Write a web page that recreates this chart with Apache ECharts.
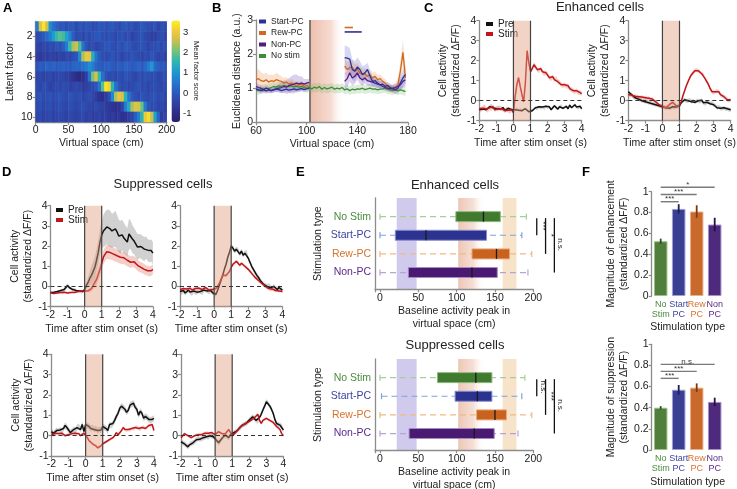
<!DOCTYPE html>
<html>
<head>
<meta charset="utf-8">
<script src="https://cdn.jsdelivr.net/npm/echarts@6/dist/echarts.min.js"></script>
<style>
html,body{margin:0;padding:0;background:#fff;}
#fig{width:737px;height:489px;}
</style>
</head>
<body>
<div id="fig"></div>
<script>
// ---------- data ----------
// A: mean factor score, 10 latent factors x 40 bins of 5 cm
var heatRows = [
  [0.6,2.8,3.4,2.6,0.9,0.4,0.1,-0.1,0.0,-0.2, -0.1,0.0,-0.3,-0.1,-0.2,0.0,-0.1,-0.3,-0.2,0.0, -0.1,-0.2,-0.1,0.0,-0.2,-0.3,-0.1,0.0,-0.2,-0.1, -0.3,-0.2,0.0,-0.1,-0.2,-0.3,-0.1,-0.4,-0.2,-0.3],
  [-0.3,-0.2,0.0,0.3,0.6,1.1,1.6,1.9,1.7,1.2, 0.7,0.1,-0.3,-0.2,-0.4,-0.1,-0.3,-0.2,-0.1,0.0, -0.2,-0.3,-0.1,-0.2,-0.4,-0.2,-0.1,-0.3,-0.2,-0.5, -0.3,-0.2,-0.1,-0.3,-0.4,-0.6,-0.5,-0.3,-0.2,-0.4],
  [-0.4,-0.5,-0.3,-0.4,-0.2,-0.3,-0.1,-0.2,0.1,0.6, 1.6,2.4,2.6,1.8,0.5,-0.1,-0.3,-0.2,-0.4,-0.3, -0.2,-0.1,0.0,-0.2,-0.3,-0.1,-0.2,0.0,-0.1,-0.2, -0.3,-0.2,-0.1,-0.2,-0.4,-0.3,-0.2,-0.1,-0.3,-0.2],
  [-0.6,-0.7,-0.5,-0.6,-0.4,-0.5,-0.6,-0.4,-0.5,-0.3, -0.4,-0.2,-0.1,0.8,2.4,3.0,2.9,1.4,0.5,0.0, -0.2,-0.3,-0.2,-0.1,-0.3,-0.2,-0.4,-0.2,-0.3,-0.1, -0.2,-0.3,-0.4,-0.2,-0.3,-0.1,-0.2,-0.4,-0.3,-0.5],
  [-0.1,0.1,0.0,0.2,0.1,0.2,0.0,0.1,0.2,0.1, 0.0,0.2,0.3,0.2,0.4,0.6,0.9,0.6,0.2,0.1, 0.0,0.1,0.2,0.0,-0.1,0.1,0.0,0.2,0.1,0.0, 0.1,0.2,0.0,0.3,0.6,1.0,0.3,0.1,0.0,-0.1],
  [-0.4,-0.3,-0.5,-0.4,-0.3,-0.5,-0.4,-0.3,-0.4,-0.5, -0.6,-0.8,-1.0,-1.1,-0.9,-0.5,0.5,2.1,2.7,1.6, 0.4,-0.1,-0.3,-0.2,-0.4,-0.2,-0.3,-0.1,-0.2,-0.3, -0.4,-0.2,-0.3,-0.1,-0.2,-0.3,-0.2,-0.4,-0.3,-0.2],
  [-0.3,-0.4,-0.2,-0.3,-0.5,-0.4,-0.3,-0.4,-0.2,-0.3, -0.5,-0.4,-0.3,-0.4,-0.6,-0.5,-0.4,-0.3,-0.1,0.5, 1.9,3.4,3.2,1.5,0.4,-0.1,-0.3,-0.2,-0.4,-0.3, -0.2,-0.1,-0.3,-0.2,-0.4,-0.3,-0.2,-0.3,-0.4,-0.3],
  [-0.2,-0.1,-0.3,-0.2,-0.1,-0.3,-0.2,-0.1,-0.2,-0.3, -0.1,-0.2,-0.3,-0.2,-0.4,-0.3,-0.2,-0.4,-0.6,-0.8, -0.9,-0.6,-0.2,0.8,2.4,2.9,2.7,1.5,0.5,0.0, -0.2,-0.3,-0.1,-0.2,-0.3,-0.2,-0.1,-0.3,-0.2,-0.4],
  [-0.3,-0.2,-0.4,-0.3,-0.2,-0.4,-0.3,-0.2,-0.3,-0.4, -0.2,-0.3,-0.4,-0.3,-0.2,-0.3,-0.4,-0.5,-0.3,-0.4, -0.5,-0.6,-0.7,-0.8,-0.9,-0.8,-0.4,0.6,1.3,2.4, 2.8,2.7,2.0,0.6,-0.1,-0.3,-0.2,-0.4,-0.3,-0.5],
  [-0.4,-0.3,-0.5,-0.4,-0.3,-0.5,-0.4,-0.3,-0.4,-0.5, -0.3,-0.4,-0.5,-0.4,-0.3,-0.5,-0.4,-0.6,-0.5,-0.4, -0.6,-0.5,-0.7,-0.6,-0.8,-0.7,-0.9,-0.8,-0.6,-0.4, 0.1,0.6,1.5,3.0,3.3,2.6,1.2,0.2,-0.6,-0.4]
];
var factorLabels = ['1','2','3','4','5','6','7','8','9','10'];
var heatMin = -1.43, heatMax = 3.57;

// B: Euclidean distance vs virtual space
var bX = [60,62,64,66,68,70,72,74,76,78,80,82,84,86,88,90,92,94,96,98,100,102,104,106,108,110,112,114,116,118,120,122,124,126,128,130,132,134,136,138,140,142,144,146,148,150,152,154,156,158,160,162,164,166,168,170,172,174,176,178];
var bNoStim = [0.95,0.93,0.97,0.98,1.00,0.98,1.02,1.05,1.03,1.07,1.05,1.08,1.06,1.05,1.07,1.04,1.06,1.03,1.05,1.02,1.00,
  1.02,0.98,1.03,1.00,1.05,0.97,1.02,0.98,1.00,1.03,0.97,1.00,0.98,1.02,0.95,0.98,0.93,0.97,0.95,0.98,
  0.97,1.00,0.96,0.98,1.00,0.97,0.98,0.95,0.97,0.98,1.00,0.96,0.95,0.93,0.96,0.92,0.95,0.93,0.90];
var bStart = [0.98,0.95,0.92,0.96,1.00,0.97,0.93,0.95,0.98,0.96,0.93,0.95,0.97,0.94,0.96,0.98,0.95,0.97,0.99,0.96,0.98,1.00,
  null,null,null,null,null,null,null,null,null,null,null,null,null,
  1.90,1.88,1.85,1.55,1.50,1.62,1.55,1.40,1.45,1.55,1.35,1.20,1.22,1.15,1.10,1.12,1.05,1.08,1.02,0.98,0.95,1.00,1.15,1.30,1.40];
var bRew = [1.25,1.28,1.22,1.20,1.25,1.18,1.22,1.20,1.25,1.22,1.20,1.15,1.18,1.12,1.15,1.10,1.08,1.10,1.12,1.05,1.08,1.05,
  null,null,null,null,null,null,null,null,null,null,null,null,null,
  1.65,1.55,1.60,1.62,1.50,1.55,1.45,1.40,1.42,1.35,1.40,1.30,1.35,1.25,1.28,1.20,1.15,1.05,1.00,0.98,1.00,1.10,1.50,2.05,1.30];
var bNon = [1.05,1.02,1.00,0.95,0.92,0.95,0.93,0.96,0.98,1.00,1.02,1.05,1.03,1.08,1.10,1.12,1.15,1.13,1.15,1.12,1.15,1.17,
  null,null,null,null,null,null,null,null,null,null,null,null,null,
  1.20,1.28,1.45,1.30,1.35,1.45,1.30,1.25,1.30,1.22,1.20,1.18,1.15,1.12,1.10,1.05,1.02,1.00,0.98,1.00,1.02,1.05,1.10,1.20,1.25];
var bNoStimSem = 0.13;
var bStartSem = [0.08,0.08,0.08,0.08,0.08,0.08,0.08,0.08,0.08,0.08,0.08,0.08,0.08,0.08,0.08,0.08,0.08,0.08,0.08,0.08,0.08,0.08,
  null,null,null,null,null,null,null,null,null,null,null,null,null,
  0.35,0.35,0.33,0.30,0.30,0.28,0.25,0.25,0.22,0.20,0.18,0.15,0.15,0.12,0.12,0.10,0.10,0.10,0.10,0.10,0.12,0.15,0.20,0.25,0.25];
var bRewSem = [0.25,0.28,0.25,0.22,0.20,0.20,0.18,0.18,0.20,0.18,0.15,0.15,0.15,0.12,0.12,0.12,0.12,0.10,0.10,0.10,0.10,0.10,
  null,null,null,null,null,null,null,null,null,null,null,null,null,
  0.22,0.22,0.20,0.20,0.20,0.18,0.18,0.18,0.16,0.16,0.15,0.15,0.14,0.14,0.13,0.12,0.12,0.12,0.12,0.12,0.15,0.20,0.30,0.35,0.30];
var bNonSem = [0.10,0.10,0.08,0.08,0.08,0.08,0.08,0.08,0.10,0.12,0.15,0.18,0.20,0.22,0.25,0.28,0.25,0.22,0.20,0.15,0.12,0.10,
  null,null,null,null,null,null,null,null,null,null,null,null,null,
  0.25,0.25,0.25,0.22,0.22,0.20,0.18,0.18,0.16,0.15,0.14,0.13,0.12,0.12,0.11,0.10,0.10,0.10,0.10,0.10,0.10,0.12,0.15,0.18,0.20];
var bStimZone = [102.6, 130];
var bSig = [[130, 136.5, 2.78], [130, 143.5, 2.65]];   // Rew-PC, Start-PC

// C, D: time courses (s after stim onset)
var T = [-2,-1.9,-1.8,-1.7,-1.6,-1.5,-1.4,-1.3,-1.2,-1.1,-1,-0.9,-0.8,-0.7,-0.6,-0.5,-0.4,-0.3,-0.2,-0.1,0,
  0.1,0.2,0.3,0.4,0.5,0.6,0.7,0.8,0.9,1,1.1,1.2,1.3,1.4,1.5,1.6,1.7,1.8,1.9,2,
  2.1,2.2,2.3,2.4,2.5,2.6,2.7,2.8,2.9,3,3.1,3.2,3.3,3.4,3.5,3.6,3.7,3.8,3.9,4];
var stimWin = [0, 1];
var cL_pre = [-0.45,-0.40,-0.42,-0.35,-0.45,-0.40,-0.30,-0.20,-0.35,-0.45,-0.40, -0.30,-0.42,-0.45,-0.35,-0.50,-0.42,-0.38,-0.48,-0.45,-0.50,
  -0.45,-0.40,-0.48,-0.42,-0.50,-0.45,-0.40,-0.48,-0.55,-0.45, -0.50,-0.40,-0.35,-0.42,-0.30,-0.38,-0.32,-0.40,-0.28,-0.35,
  -0.30,-0.45,-0.38,-0.25,-0.35,-0.42,-0.30,-0.25,-0.38,-0.32, -0.28,-0.40,-0.22,-0.35,-0.30,-0.20,-0.32,-0.38,-0.28,-0.40];
var cL_stim = [-0.40,-0.45,-0.38,-0.30,-0.42,-0.48,-0.35,-0.40,-0.30,-0.45,-0.38, -0.42,-0.35,-0.40,-0.45,-0.50,-0.42,-0.48,-0.55,-0.45,-0.60,
  0.20,0.80,1.15,0.70,0.30,-0.05,0.90,2.50,1.90,1.45, 1.60,1.80,1.70,1.55,1.50,1.60,1.45,1.35,1.40,1.30,
  1.15,1.10,1.20,1.05,1.10,0.95,0.90,0.80,0.75,0.80, 0.70,0.75,0.60,0.55,0.50,0.45,0.50,0.40,0.40,0.35];
var cR_pre = [0.45,0.35,0.30,0.20,0.15,0.10,0.08,0.05,0.00,-0.02,-0.05, -0.05,-0.10,-0.12,-0.15,-0.18,-0.20,-0.22,-0.25,-0.28,-0.30,
  -0.32,-0.35,-0.33,-0.38,-0.35,-0.30,-0.35,-0.32,-0.28,-0.25, -0.10,0.00,0.05,-0.02,0.00,0.05,-0.05,0.00,-0.08,-0.02,
  0.00,-0.05,0.02,-0.10,-0.15,-0.08,-0.05,-0.15,-0.10,-0.20, -0.25,-0.35,-0.30,-0.38,-0.40,-0.35,-0.42,-0.40,-0.45,-0.45];
var cR_stim = [0.30,0.25,0.28,0.20,0.22,0.18,0.20,0.15,0.18,0.12,0.15, 0.10,0.12,0.05,0.08,0.00,-0.05,-0.12,-0.20,-0.25,-0.30,
  -0.32,-0.35,-0.30,-0.20,-0.12,-0.08,-0.15,-0.25,-0.30,-0.25, -0.05,0.25,0.50,0.75,0.95,1.15,1.30,1.40,1.50,1.55,
  1.50,1.45,1.35,1.30,1.10,0.95,0.80,0.60,0.45,0.40, 0.45,0.50,0.45,0.30,0.25,0.20,0.15,0.05,0.00,0.05];
var dTL_pre = [-0.30,-0.32,-0.28,-0.30,-0.25,-0.28,-0.20,-0.22,-0.15,-0.05,0.05, -0.05,-0.10,-0.15,-0.12,-0.20,-0.25,-0.22,-0.28,-0.25,-0.15,
  0.05,0.20,0.40,0.55,0.75,0.95,1.30,1.70,2.20,2.55, 2.75,2.85,2.95,2.90,2.85,2.75,2.80,2.85,2.70,2.50,
  2.45,2.55,2.40,2.30,2.20,2.60,2.55,2.35,2.25,2.10, 1.95,2.00,1.98,1.90,1.85,1.92,1.80,1.75,1.78,1.65];
var dTL_preSem = [0.06,0.06,0.06,0.06,0.06,0.06,0.07,0.08,0.10,0.12,0.10, 0.08,0.07,0.06,0.06,0.06,0.06,0.06,0.07,0.08,0.10,
  0.15,0.25,0.35,0.45,0.50,0.55,0.55,0.60,0.65,0.70, 0.80,0.85,0.85,0.90,0.90,0.85,0.85,0.90,0.85,0.80,
  0.80,0.75,0.75,0.70,0.70,0.75,0.70,0.70,0.65,0.65, 0.65,0.60,0.60,0.60,0.60,0.55,0.55,0.55,0.55,0.55];
var dTL_stim = [-0.32,-0.30,-0.35,-0.30,-0.32,-0.28,-0.30,-0.33,-0.28,-0.30,-0.32, -0.28,-0.30,-0.25,-0.30,-0.28,-0.25,-0.30,-0.22,-0.25,-0.22,
  -0.20,-0.22,-0.18,-0.10,0.05,0.20,0.35,0.60,0.85,1.15, 1.45,1.60,1.72,1.70,1.68,1.65,1.60,1.55,1.52,1.48,
  1.45,1.40,1.42,1.35,1.30,1.25,1.20,1.25,1.22,1.15, 1.05,0.98,0.95,0.90,0.85,0.80,0.78,0.75,0.78,0.85];
var dTL_stimSem = [0.05,0.05,0.05,0.05,0.05,0.05,0.05,0.05,0.05,0.05,0.05, 0.05,0.05,0.05,0.05,0.05,0.05,0.05,0.05,0.05,0.05,
  0.05,0.08,0.10,0.15,0.20,0.25,0.30,0.30,0.32,0.32, 0.35,0.35,0.35,0.35,0.35,0.33,0.33,0.33,0.32,0.32,
  0.32,0.30,0.30,0.30,0.30,0.30,0.28,0.28,0.28,0.28, 0.28,0.28,0.26,0.26,0.26,0.25,0.25,0.25,0.25,0.25];
var dTR_pre = [-0.25,-0.30,-0.20,-0.32,-0.25,-0.18,-0.28,-0.35,-0.22,-0.30,-0.28, -0.20,-0.25,-0.30,-0.18,-0.15,-0.22,-0.28,-0.20,-0.30,-0.30,
  -0.40,-0.20,0.05,0.30,0.55,0.85,1.10,1.45,1.70,2.00, 1.90,1.75,1.85,1.80,1.60,1.75,1.55,1.65,1.70,1.40,
  1.20,1.00,0.85,0.70,0.55,0.45,0.30,0.20,0.10,0.05, 0.00,0.05,-0.05,-0.10,0.00,-0.08,-0.15,-0.05,-0.12,-0.18];
var dTR_stim = [-0.15,-0.20,-0.10,-0.18,-0.12,-0.15,-0.08,-0.18,-0.12,-0.10,-0.15, -0.08,-0.12,-0.15,-0.10,-0.05,-0.12,-0.18,-0.10,-0.15,-0.12,
  -0.10,0.00,0.15,0.35,0.55,0.60,0.55,0.58,0.75,0.95, 1.10,1.15,1.25,1.20,1.05,1.15,1.10,1.00,0.95,0.85,
  0.75,0.65,0.55,0.45,0.38,0.30,0.22,0.15,0.08,0.02, -0.05,-0.10,-0.15,-0.12,-0.18,-0.20,-0.15,-0.22,-0.20,-0.25];
var dBL_pre = [0.20,0.10,0.15,0.25,0.20,0.28,0.22,0.35,0.50,0.40,0.28, 0.15,0.20,0.30,0.25,0.40,0.45,0.30,0.55,0.20,0.55,
  0.50,0.45,0.35,0.40,0.30,0.35,0.25,0.30,0.28,0.45, 0.40,0.35,0.25,0.55,0.50,0.60,0.75,0.95,1.10,1.35,
  1.45,1.40,1.30,1.15,1.25,1.50,1.55,1.60,1.40,1.30, 1.00,1.20,1.10,0.85,0.95,0.90,0.80,0.75,0.80,0.85];
var dBL_stim = [0.03,0.08,0.12,0.15,0.10,0.08,0.12,0.05,0.00,0.05,0.05, 0.08,0.10,0.15,0.12,0.05,0.10,0.00,0.05,0.12,0.20,
  -0.10,-0.25,-0.30,-0.40,-0.45,-0.50,-0.60,-0.55,-0.50,-0.40, -0.35,-0.30,-0.25,-0.20,-0.15,-0.10,0.00,0.15,0.05,0.10,
  0.25,0.40,0.30,0.25,0.30,0.25,0.35,0.30,0.40,0.45, 0.35,0.30,0.40,0.45,0.35,0.40,0.50,0.45,0.55,0.25];
var dBR_pre = [-0.30,-0.35,-0.40,-0.48,-0.55,-0.45,-0.38,-0.35,-0.30,-0.20,-0.13, -0.18,-0.15,-0.10,-0.08,-0.05,-0.08,0.00,-0.02,-0.05,-0.08,
  -0.25,-0.35,-0.28,-0.13,-0.05,0.03,-0.05,-0.10,0.05,0.10, 0.15,0.20,0.25,0.35,0.40,0.52,0.55,0.60,0.65,0.77,
  0.85,0.93,0.85,0.75,0.70,0.90,1.05,1.26,1.45,1.67, 1.60,1.46,1.30,1.10,0.80,0.60,0.55,0.52,0.45,0.28];
var dBR_stim = [-0.10,0.00,0.10,0.05,0.00,-0.05,-0.10,-0.05,0.00,0.05,0.05, 0.08,0.05,0.10,0.12,0.15,0.12,0.10,0.15,0.08,0.05,
  0.12,0.20,0.15,0.10,0.05,0.10,0.20,0.30,0.15,0.00, 0.05,0.15,0.25,0.35,0.45,0.50,0.55,0.60,0.65,0.70,
  0.75,0.80,0.88,0.95,1.05,0.75,0.60,0.75,0.80,0.85, 0.80,0.75,0.70,0.65,0.60,0.45,0.40,0.30,0.10,0.00];

// E: baseline activity peak, [whisker lo, q1, median, q3, whisker hi] (cm)
var boxCats = ['No Stim', 'Start-PC', 'Rew-PC', 'Non-PC'];
var boxEnh = [[0,99,135,157,191], [0,20,60,139,185], [0,120,152,169,198], [0,37,120,153,193]];
var boxSup = [[0,75,125,146,189], [2,98,127,146,185], [0,126,150,165,198], [0,38,123,149,180]];
var eZones = [[21.8, 47.8], [102, 135], [160, 178]];
var eSigEnh = ['***', '*', 'n.s.'];
var eSigSup = ['n.s.', '***', 'n.s.'];

// F: magnitudes
var fCats = ['No\nStim', 'Start\nPC', 'Rew\nPC', 'Non\nPC'];
var fEnh = [0.525, 0.835, 0.81, 0.685], fEnhErr = [0.025, 0.045, 0.06, 0.065];
var fSup = [0.40, 0.57, 0.59, 0.455], fSupErr = [0.015, 0.045, 0.04, 0.04];
var fSigEnh = ['***', '***', '*'];
var fSigSup = ['***', '***', 'n.s.'];

// ---------- styles ----------
var FONT = '"Liberation Sans", Arial, Helvetica, sans-serif';
var AX = '#8c8c8c', TXT = '#222';
var RED = '#c1161c', BLK = '#111';
var SHADE = 'rgba(226,160,128,0.45)';
var HEAT_COLORS = ['#2a1f6e', '#2e2f8c', '#2f44a6', '#2c5cc0', '#2479d0', '#1d9ccf', '#2fb7ae', '#74c27a', '#c8bf52', '#f3c93a', '#f8f51a'];
var B_COL = {start:'#2e3192', rew:'#d2691e', non:'#4d1f80', no:'#3d8b37'};
var B_BAND = {start:'rgba(90,95,200,0.25)', rew:'rgba(235,140,60,0.25)', non:'rgba(130,90,190,0.28)', no:'rgba(120,180,110,0.25)'};
var CAT_COL = ['#4b8b3b', '#3c44a0', '#d8732a', '#5a2a8a'];
var BOX_F = ['#3f7a2e', '#2c328f', '#c9621f', '#4a1a72'];
var BOX_E = ['#8fb880', '#8a90cc', '#e8a879', '#a58cc2'];
var WHISK = ['#a6cf98', '#7ea2dc', '#f2b980', '#b9a3d4'];
var BAR_F = ['#4f7f3a', '#3b3f92', '#c9692c', '#4e2a7d'];
var BAR_E = ['#9cc08a', '#9a9fd6', '#eab189', '#a88ccb'];
var ERR = ['#2f4f22', '#1c1f5e', '#7a3a10', '#2a0f45'];

var grids = [], xAxes = [], yAxes = [], series = [];

function axisBase(extra) {
  var a = {
    splitLine: {show: false},
    axisLine: {show: true, onZero: false, lineStyle: {color: AX, width: 1.3}},
    axisTick: {show: true, length: 3, inside: false, lineStyle: {color: AX, width: 1.2}},
    axisLabel: {color: TXT, fontSize: 10.5, fontFamily: FONT, margin: 3},
    nameTextStyle: {color: TXT, fontSize: 10.5, fontFamily: FONT, lineHeight: 13},
    nameLocation: 'middle'
  };
  for (var k in extra) {
    if (a[k] && typeof a[k] === 'object' && extra[k] && typeof extra[k] === 'object' && !Array.isArray(extra[k])) {
      a[k] = Object.assign({}, a[k], extra[k]);
    } else {
      a[k] = extra[k];
    }
  }
  return a;
}

function addGrid(g, xa, ya) {
  g.outerBoundsMode = 'none';
  grids.push(g);
  var gi = grids.length - 1;
  var xi = xAxes.length, yi = yAxes.length;
  [].concat(xa).forEach(function (a) { a.gridIndex = gi; if (!a.position) a.position = 'bottom'; xAxes.push(a); });
  [].concat(ya).forEach(function (a) { a.gridIndex = gi; if (!a.position) a.position = 'left'; yAxes.push(a); });
  return {g: gi, x: xi, y: yi};
}

function lineSeries(name, ax, xs, ys, color, z, zeroLine, width) {
  var s = {
    type: 'line', name: name, xAxisIndex: ax.x, yAxisIndex: ax.y, z: z,
    showSymbol: false, symbol: 'none', silent: true, connectNulls: false,
    data: xs.map(function (x, i) { return [x, ys[i]]; }),
    lineStyle: {color: color, width: width || 1.5}, itemStyle: {color: color}
  };
  if (zeroLine) {
    s.markLine = {silent: true, symbol: 'none', label: {show: false},
      lineStyle: {type: [4, 3], color: '#333', width: 1}, data: [{yAxis: 0}]};
  }
  return s;
}

function bandSeries(ax, xs, ys, sem, fill, z) {
  return {
    type: 'custom', xAxisIndex: ax.x, yAxisIndex: ax.y, z: z || 1, silent: true, clip: true,
    data: [[xs[0], 0]],
    renderItem: function (params, api) {
      var segs = [], cur = [];
      for (var i = 0; i < xs.length; i++) {
        if (ys[i] == null) { if (cur.length) segs.push(cur); cur = []; }
        else cur.push(i);
      }
      if (cur.length) segs.push(cur);
      function s(i) { return typeof sem === 'number' ? sem : sem[i]; }
      var ch = segs.map(function (seg) {
        var up = seg.map(function (i) { return api.coord([xs[i], ys[i] + s(i)]); });
        var lo = seg.slice().reverse().map(function (i) { return api.coord([xs[i], ys[i] - s(i)]); });
        return {type: 'polygon', shape: {points: up.concat(lo)}, style: {fill: fill}};
      });
      return {type: 'group', children: ch};
    }
  };
}

function stimSeries(ax) {
  return {
    type: 'custom', xAxisIndex: ax.x, yAxisIndex: ax.y, z: 4, silent: true, data: [stimWin],
    renderItem: function (params, api) {
      var cs = params.coordSys;
      var x0 = api.coord([api.value(0), 0])[0], x1 = api.coord([api.value(1), 0])[0];
      return {type: 'group', children: [
        {type: 'rect', shape: {x: x0, y: cs.y, width: x1 - x0, height: cs.height}, style: {fill: SHADE}},
        {type: 'line', shape: {x1: x0, y1: cs.y, x2: x0, y2: cs.y + cs.height}, style: {stroke: '#444', lineWidth: 1.2}},
        {type: 'line', shape: {x1: x1, y1: cs.y, x2: x1, y2: cs.y + cs.height}, style: {stroke: '#444', lineWidth: 1.2}}
      ]};
    }
  };
}

// ---------- A: heatmap ----------
var heatBins = [];
for (var c = 0; c < heatRows[0].length; c++) heatBins.push(String(c * 5));
var heatData = [];
heatRows.forEach(function (row, r) { row.forEach(function (v, c) { heatData.push([c, r, v]); }); });
var evenOnly = function (i) { return i % 2 === 1; };

var A = addGrid({left: 35.7, top: 21.5, width: 131, height: 100.5},
  [{type: 'category', data: heatBins, show: false, position: 'bottom'},
   axisBase({type: 'value', position: 'bottom', min: 0, max: 200, interval: 50, name: 'Virtual space (cm)', nameGap: 15})],
  axisBase({type: 'category', data: factorLabels, inverse: true, name: 'Latent factor', nameGap: 19,
    axisLabel: {interval: evenOnly}, axisTick: {interval: evenOnly, alignWithLabel: true}}));
series.push({type: 'heatmap', xAxisIndex: A.x, yAxisIndex: A.y, data: heatData, silent: true,
  itemStyle: {borderWidth: 0}, emphasis: {disabled: true}});

var CB = addGrid({left: 171.5, top: 20.5, width: 8.5, height: 101.5},
  {type: 'value', show: false, min: 0, max: 1},
  axisBase({type: 'value', position: 'right', min: heatMin, max: heatMax,
    axisLine: {show: false}, axisTick: {show: false},
    axisLabel: {margin: 3, fontSize: 9.5, formatter: function (v) { return Number.isInteger(v) ? String(v) : ''; }}}));
series.push({type: 'line', xAxisIndex: CB.x, yAxisIndex: CB.y, data: [], silent: true});

// ---------- B ----------
var B = addGrid({left: 256, top: 20, width: 152, height: 102.3},
  axisBase({type: 'value', min: 60, max: 180, interval: 40, name: 'Virtual space (cm)', nameGap: 15}),
  axisBase({type: 'value', min: 0, max: 3, interval: 1, name: 'Euclidean distance (a.u.)', nameGap: 12}));
series.push({
  type: 'custom', xAxisIndex: B.x, yAxisIndex: B.y, z: 0, silent: true, data: [bStimZone],
  renderItem: function (params, api) {
    var cs = params.coordSys;
    var x0 = api.coord([api.value(0), 0])[0], x1 = api.coord([api.value(1), 0])[0];
    return {type: 'group', children: [
      {type: 'rect', shape: {x: x0, y: cs.y, width: x1 - x0, height: cs.height},
        style: {fill: new echarts.graphic.LinearGradient(0, 0, 1, 0, [
          {offset: 0, color: 'rgba(226,150,120,0.62)'}, {offset: 0.6, color: 'rgba(232,165,140,0.4)'},
          {offset: 1, color: 'rgba(255,255,255,0)'}])}},
      {type: 'line', shape: {x1: x0, y1: cs.y, x2: x0, y2: cs.y + cs.height}, style: {stroke: '#444', lineWidth: 1.3}}
    ]};
  }
});
series.push(bandSeries(B, bX, bNoStim, bNoStimSem, B_BAND.no, 1));
series.push(bandSeries(B, bX, bRew, bRewSem, B_BAND.rew, 1));
series.push(bandSeries(B, bX, bNon, bNonSem, B_BAND.non, 1));
series.push(bandSeries(B, bX, bStart, bStartSem, B_BAND.start, 1));
series.push(lineSeries('No stim', B, bX, bNoStim, B_COL.no, 3, false, 1.3));
series.push(lineSeries('Rew-PC', B, bX, bRew, B_COL.rew, 3, false, 1.3));
series.push(lineSeries('Non-PC', B, bX, bNon, B_COL.non, 3, false, 1.3));
series.push(lineSeries('Start-PC', B, bX, bStart, B_COL.start, 3, false, 1.3));
series.push({
  type: 'custom', xAxisIndex: B.x, yAxisIndex: B.y, z: 5, silent: true, data: bSig,
  renderItem: function (params, api) {
    var p0 = api.coord([api.value(0), api.value(2)]), p1 = api.coord([api.value(1), api.value(2)]);
    var col = params.dataIndex === 0 ? B_COL.rew : B_COL.start;
    return {type: 'line', shape: {x1: p0[0], y1: p0[1], x2: p1[0], y2: p1[1]}, style: {stroke: col, lineWidth: 1.6}};
  }
});

// ---------- C, D: traces ----------
function tracePanel(left, top, h, yName, yGap, pre, stim, preSem, stimSem) {
  var ax = addGrid({left: left, top: top, width: 102.4, height: h},
    axisBase({type: 'value', min: -2, max: 4, interval: 1, name: 'Time after stim onset (s)', nameGap: 16}),
    axisBase({type: 'value', min: -1, max: 4, interval: 1, name: yName, nameGap: yGap}));
  series.push(bandSeries(ax, T, pre, preSem, 'rgba(140,140,140,0.4)', 1));
  series.push(bandSeries(ax, T, stim, stimSem, 'rgba(222,110,90,0.33)', 1));
  series.push(lineSeries('Pre', ax, T, pre, BLK, 3, true, 1.5));
  series.push(lineSeries('Stim', ax, T, stim, RED, 3, false, 1.5));
  series.push(stimSeries(ax));
}
var YCELL = 'Cell activity\n(standardized ΔF/F)';
tracePanel(479.3, 20.7, 100, YCELL, 10, cL_pre, cL_stim, 0.07, 0.12);
tracePanel(628.3, 20.7, 100, YCELL, 10, cR_pre, cR_stim, 0.10, 0.10);
tracePanel(50.5, 205.7, 101, YCELL, 16, dTL_pre, dTL_stim, dTL_preSem, dTL_stimSem);
tracePanel(180, 205.7, 101, '', 16, dTR_pre, dTR_stim, 0.12, 0.08);
tracePanel(51.5, 354.3, 101.7, YCELL, 16, dBL_pre, dBL_stim, 0.15, 0.07);
tracePanel(181, 354.3, 101.7, '', 16, dBR_pre, dBR_stim, 0.12, 0.07);

// ---------- E: box plots ----------
var catRich = {};
CAT_COL.forEach(function (c, i) { catRich['c' + i] = {color: c, fontSize: 10.5, fontFamily: FONT}; });

function boxPanel(top, boxes, sigs) {
  var ax = addGrid({left: 375, top: top, width: 158.3, height: 91.3},
    axisBase({type: 'value', min: -6.5, max: 200, name: 'Baseline activity peak in\nvirtual space (cm)', nameGap: 14,
      axisLabel: {formatter: function (v) { return (v >= 0 && v % 50 === 0) ? String(v) : ''; }}}),
    axisBase({type: 'value', inverse: true, min: -1, max: 3.9, interval: 1, name: 'Stimulation type', nameGap: 50,
      axisTick: {show: false},
      axisLabel: {margin: 4, rich: catRich, formatter: function (v) {
        return (v >= 0 && v <= 3) ? '{c' + v + '|' + boxCats[v] + '}' : ''; }}}));
  series.push({
    type: 'custom', xAxisIndex: ax.x, yAxisIndex: ax.y, z: 0, silent: true, data: eZones,
    renderItem: function (params, api) {
      var cs = params.coordSys, k = params.dataIndex;
      var x0 = api.coord([api.value(0), 0])[0], x1 = api.coord([api.value(1), 0])[0];
      var fill = k === 0 ? 'rgba(150,140,215,0.45)' : k === 2 ? 'rgba(240,200,150,0.5)' :
        new echarts.graphic.LinearGradient(0, 0, 1, 0, [
          {offset: 0, color: 'rgba(226,160,130,0.6)'}, {offset: 0.6, color: 'rgba(232,175,150,0.4)'},
          {offset: 1, color: 'rgba(255,255,255,0.1)'}]);
      return {type: 'rect', shape: {x: x0, y: cs.y, width: x1 - x0, height: cs.height}, style: {fill: fill}};
    }
  });
  series.push({
    type: 'custom', xAxisIndex: ax.x, yAxisIndex: ax.y, z: 3, silent: true,
    data: boxes.map(function (b, i) { return [i].concat(b); }),
    encode: {x: [1, 2, 3, 4, 5], y: 0},
    renderItem: function (params, api) {
      var i = api.value(0);
      var pLo = api.coord([api.value(1), i]), p1 = api.coord([api.value(2), i]);
      var pm = api.coord([api.value(3), i]), p3 = api.coord([api.value(4), i]), pHi = api.coord([api.value(5), i]);
      var hb = 5, hc = 3;
      return {type: 'group', children: [
        {type: 'line', shape: {x1: pLo[0], y1: pLo[1], x2: pHi[0], y2: pHi[1]}, style: {stroke: WHISK[i], lineWidth: 1.2, lineDash: [6, 4]}},
        {type: 'line', shape: {x1: pLo[0], y1: pLo[1] - hc, x2: pLo[0], y2: pLo[1] + hc}, style: {stroke: WHISK[i], lineWidth: 1.2}},
        {type: 'line', shape: {x1: pHi[0], y1: pHi[1] - hc, x2: pHi[0], y2: pHi[1] + hc}, style: {stroke: WHISK[i], lineWidth: 1.2}},
        {type: 'rect', shape: {x: p1[0], y: p1[1] - hb, width: p3[0] - p1[0], height: 2 * hb}, style: {fill: BOX_F[i], stroke: BOX_E[i], lineWidth: 1}},
        {type: 'line', shape: {x1: pm[0], y1: pm[1] - hb, x2: pm[0], y2: pm[1] + hb}, style: {stroke: '#1a1a1a', lineWidth: 1.3}}
      ]};
    }
  });
  series.push({
    type: 'custom', xAxisIndex: ax.x, yAxisIndex: ax.y, z: 5, silent: true,
    data: sigs.map(function (s, k) { return [0, k + 1]; }),
    renderItem: function (params, api) {
      var k = api.value(1);
      var xv = 204.5 + (k - 1) * 11.5;
      var p0 = api.coord([xv, 0]), p1 = api.coord([xv, k]);
      return {type: 'group', children: [
        {type: 'line', shape: {x1: p0[0], y1: p0[1] + 1.5, x2: p1[0], y2: p1[1]}, style: {stroke: '#111', lineWidth: 1.3}},
        {type: 'text', x: p0[0] + 2, y: (p0[1] + p1[1]) / 2, rotation: -Math.PI / 2,
          style: {text: sigs[k - 1], fontSize: 8, fontFamily: FONT, fill: '#222', align: 'center', verticalAlign: 'bottom'}}
      ]};
    }
  });
}
boxPanel(198, boxEnh, eSigEnh);
boxPanel(359, boxSup, eSigSup);

// ---------- F: bars ----------
function barPanel(top, h, name, vals, errs, sigs, sigBase, sigStep, xGap) {
  var ax = addGrid({left: 651.7, top: top, width: 72, height: h},
    axisBase({type: 'category', data: fCats, axisLine: {show: false}, axisTick: {show: false},
      name: 'Stimulation type', nameGap: xGap,
      axisLabel: {margin: 4, fontSize: 9, lineHeight: 10, interval: 0, color: function (v, i) { return CAT_COL[i]; }}}),
    axisBase({type: 'value', min: 0, max: 1, interval: 0.2, name: name, nameGap: 21}));
  series.push({type: 'bar', xAxisIndex: ax.x, yAxisIndex: ax.y, barWidth: 13.5, silent: true, z: 2,
    data: vals.map(function (v, i) { return {value: v, itemStyle: {color: BAR_F[i], borderColor: BAR_E[i], borderWidth: 1}}; })});
  series.push({
    type: 'custom', xAxisIndex: ax.x, yAxisIndex: ax.y, z: 4, silent: true,
    data: vals.map(function (v, i) { return [i, v]; }),
    renderItem: function (params, api) {
      var i = api.value(0), v = api.value(1), e = errs[i];
      var pt = api.coord([i, v + e]), pb = api.coord([i, v - e]);
      return {type: 'line', shape: {x1: pt[0], y1: pt[1], x2: pb[0], y2: pb[1]}, style: {stroke: ERR[i], lineWidth: 1.8}};
    }
  });
  series.push({
    type: 'custom', xAxisIndex: ax.x, yAxisIndex: ax.y, z: 4, silent: true,
    data: sigs.map(function (s, k) { return [k + 1, sigBase + k * sigStep]; }),
    renderItem: function (params, api) {
      var k = api.value(0), y = api.value(1);
      var p0 = api.coord([0, y]), p1 = api.coord([k, y]);
      return {type: 'group', children: [
        {type: 'line', shape: {x1: p0[0], y1: p0[1], x2: p1[0], y2: p1[1]}, style: {stroke: '#7a7a7a', lineWidth: 1.4}},
        {type: 'text', x: (p0[0] + p1[0]) / 2, y: p0[1] + 1,
          style: {text: sigs[k - 1], fontSize: 8, fontFamily: FONT, fill: '#333', align: 'center', verticalAlign: 'bottom'}}
      ]};
    }
  });
}
barPanel(191.7, 104.3, 'Magnitude of enhancement\n(standardized ΔF/F)', fEnh, fEnhErr, fSigEnh, 0.904, 0.069, 23);
barPanel(344.3, 105.7, 'Magnitude of suppression\n(standardized ΔF/F)', fSup, fSupErr, fSigSup, 0.678, 0.066, 26);

// ---------- text ----------
function txt(x, y, s, size, extra) {
  var st = {text: s, fontSize: size, fontFamily: FONT, fill: TXT, align: 'center', verticalAlign: 'middle'};
  if (extra) Object.assign(st, extra);
  return {type: 'text', x: x, y: y, silent: true, style: st};
}
var graphics = [
  txt(3, 8, 'A', 13, {fontWeight: 'bold', align: 'left', fill: '#000'}),
  txt(212, 8, 'B', 13, {fontWeight: 'bold', align: 'left', fill: '#000'}),
  txt(424, 8, 'C', 13, {fontWeight: 'bold', align: 'left', fill: '#000'}),
  txt(2, 172, 'D', 13, {fontWeight: 'bold', align: 'left', fill: '#000'}),
  txt(296, 172, 'E', 13, {fontWeight: 'bold', align: 'left', fill: '#000'}),
  txt(582, 172, 'F', 13, {fontWeight: 'bold', align: 'left', fill: '#000'}),
  txt(600, 7, 'Enhanced cells', 13),
  txt(163, 184, 'Suppressed cells', 13),
  txt(455, 185, 'Enhanced cells', 13),
  txt(455, 345, 'Suppressed cells', 13)
];
var cbLabel = txt(196, 71, 'Mean factor score', 7.5);
cbLabel.rotation = -Math.PI / 2;
graphics.push(cbLabel);

var legendText = {fontSize: 10, color: TXT, fontFamily: FONT};
var option = {
  animation: false,
  textStyle: {fontFamily: FONT},
  grid: grids, xAxis: xAxes, yAxis: yAxes, series: series,
  visualMap: [{type: 'continuous', seriesIndex: 0, min: heatMin, max: heatMax, left: 171.5, top: 20.5,
    itemWidth: 8.5, itemHeight: 101.5, padding: 0, calculable: false, hoverLink: false, text: null,
    inRange: {color: HEAT_COLORS}}],
  legend: [
    {data: ['Start-PC', 'Rew-PC', 'Non-PC', 'No stim'], orient: 'vertical', left: 259, top: 17, padding: 0,
      icon: 'rect', itemWidth: 7, itemHeight: 4, itemGap: 2.5, selectedMode: false,
      textStyle: {fontSize: 8.5, color: TXT, fontFamily: FONT}},
    {data: ['Pre', 'Stim'], orient: 'vertical', left: 486, top: 19, padding: 0, icon: 'rect',
      itemWidth: 7, itemHeight: 4, itemGap: 0, selectedMode: false, textStyle: legendText},
    {data: ['Pre', 'Stim'], orient: 'vertical', left: 56, top: 205, padding: 0, icon: 'rect',
      itemWidth: 7, itemHeight: 4, itemGap: 0, selectedMode: false, textStyle: legendText}
  ],
  graphic: graphics
};

var myChart = echarts.init(document.getElementById('fig'), null, {renderer: 'canvas'});
myChart.setOption(option);
</script>
</body>
</html>
